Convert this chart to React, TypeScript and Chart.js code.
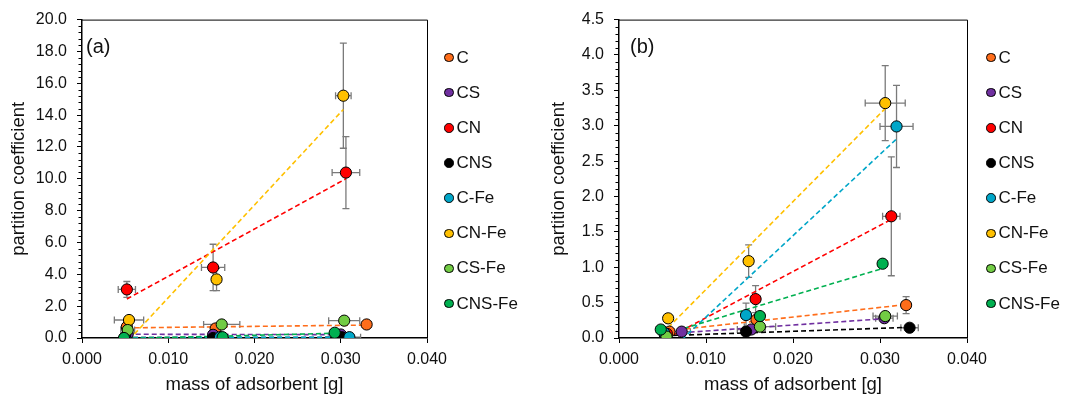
import React, { useEffect, useRef } from "react";
import { Chart, registerables } from "chart.js";

Chart.register(...registerables);

const FONT = "'Liberation Sans', Arial, sans-serif";

// ---------- series ----------
const seriesNames = ["C", "CS", "CN", "CNS", "C-Fe", "CN-Fe", "CS-Fe", "CNS-Fe"];
const seriesColors = ["#FF6D1A", "#7030A0", "#FF0000", "#000000", "#00A6C8", "#FFC000", "#72CC44", "#00B050"];
// series that carry a dashed linear trendline in the figure
const trendlineSeries = ["C", "CS", "CN", "CNS", "C-Fe", "CN-Fe", "CNS-Fe"];

// ---------- axes ----------
const xTickValues = [0, 0.01, 0.02, 0.03, 0.04];
const aYTicks = [0, 2, 4, 6, 8, 10, 12, 14, 16, 18, 20];
const bYTicks = [0, 0.5, 1, 1.5, 2, 2.5, 3, 3.5, 4, 4.5];

// ---------- panel (a) ----------
const aMass = [
  [0.0052, 0.0155, 0.033],
  [0.0053, 0.0152, 0.03],
  [0.0052, 0.0152, 0.0306],
  [0.005, 0.0152, 0.0301],
  [0.005, 0.016, 0.031],
  [0.00545, 0.0156, 0.0303],
  [0.0053, 0.0162, 0.0304],
  [0.00487, 0.0163, 0.0293],
];
const aPartition = [
  [0.7, 0.6, 0.85],
  [0.25, 0.2, 0.22],
  [3.05, 4.43, 10.39],
  [0.05, 0.0, 0.05],
  [0.02, 0.05, 0.05],
  [1.13, 3.68, 15.22],
  [0.5, 0.85, 1.09],
  [0.0, 0.05, 0.33],
];
const aMassErr = [
  [0.0005, 0.0005, 0.0005],
  [0.0005, 0.0005, 0.0005],
  [0.001, 0.00135, 0.0016],
  [0.0005, 0.0005, 0.0005],
  [0.0005, 0.0005, 0.0013],
  [0.0017, 0.0005, 0.0009],
  [0.0008, 0.0021, 0.0018],
  [0.0005, 0.0005, 0.0005],
];
const aPartitionErr = [
  [0.05, 0.05, 0.08],
  [0.03, 0.03, 0.03],
  [0.5, 1.46, 2.26],
  [0.03, 0.03, 0.03],
  [0.03, 0.03, 0.03],
  [0.2, 0.7, 3.3],
  [0.1, 0.1, 0.1],
  [0.03, 0.03, 0.05],
];

// ---------- panel (b) ----------
const bMass = [
  [0.0058, 0.0158, 0.033],
  [0.0072, 0.0152, 0.0305],
  [0.0055, 0.0157, 0.0313],
  [0.0053, 0.0146, 0.0334],
  [0.0052, 0.0146, 0.0319],
  [0.00565, 0.0149, 0.0306],
  [0.00546, 0.0162, 0.0306],
  [0.0048, 0.0162, 0.0303],
];
const bPartition = [
  [0.09, 0.26, 0.465],
  [0.09, 0.12, 0.28],
  [0.06, 0.55, 1.72],
  [0.02, 0.09, 0.145],
  [0.07, 0.324, 2.99],
  [0.278, 1.086, 3.32],
  [0.02, 0.16, 0.31],
  [0.12, 0.31, 1.05],
];
const bMassErr = [
  [0.0005, 0.0005, 0.0005],
  [0.001, 0.0016, 0.001],
  [0.0005, 0.0005, 0.001],
  [0.0005, 0.0005, 0.001],
  [0.0005, 0.0005, 0.0019],
  [0.0005, 0.0005, 0.0023],
  [0.0005, 0.0018, 0.0014],
  [0.0005, 0.0005, 0.0005],
];
const bPartitionErr = [
  [0.02, 0.05, 0.12],
  [0.02, 0.03, 0.03],
  [0.02, 0.19, 0.84],
  [0.01, 0.02, 0.03],
  [0.02, 0.17, 0.58],
  [0.03, 0.23, 0.53],
  [0.02, 0.03, 0.03],
  [0.02, 0.05, 0.05],
];

// least-squares linear trendline over the data range (as Excel draws it)
function trendline(xs: number[], ys: number[]) {
  const n = xs.length;
  const mx = xs.reduce((a, b) => a + b, 0) / n;
  const my = ys.reduce((a, b) => a + b, 0) / n;
  let sxy = 0;
  let sxx = 0;
  for (let i = 0; i < n; i++) {
    sxy += (xs[i] - mx) * (ys[i] - my);
    sxx += (xs[i] - mx) * (xs[i] - mx);
  }
  const slope = sxx === 0 ? 0 : sxy / sxx;
  const x0 = Math.min(...xs);
  const x1 = Math.max(...xs);
  return [
    { x: x0, y: my + slope * (x0 - mx) },
    { x: x1, y: my + slope * (x1 - mx) },
  ];
}

const errorBarPlugin = {
  id: "errorBars",
  beforeDatasetsDraw(chart: any) {
    const { ctx, chartArea, scales } = chart;
    const xs = scales.x;
    const ys = scales.y;
    ctx.save();
    ctx.beginPath();
    ctx.rect(chartArea.left, chartArea.top, chartArea.right - chartArea.left, chartArea.bottom - chartArea.top);
    ctx.clip();
    ctx.strokeStyle = "#7A7A7A";
    ctx.lineWidth = 1.3;
    const cap = 3.5;
    chart.data.datasets.forEach((ds: any) => {
      if (!ds.xErr) return;
      ds.data.forEach((p: any, i: number) => {
        const cx = xs.getPixelForValue(p.x);
        const cy = ys.getPixelForValue(p.y);
        const xl = xs.getPixelForValue(p.x - ds.xErr[i]);
        const xr = xs.getPixelForValue(p.x + ds.xErr[i]);
        const yt = ys.getPixelForValue(p.y + ds.yErr[i]);
        const yb = ys.getPixelForValue(p.y - ds.yErr[i]);
        ctx.beginPath();
        ctx.moveTo(xl, cy);
        ctx.lineTo(xr, cy);
        ctx.moveTo(xl, cy - cap);
        ctx.lineTo(xl, cy + cap);
        ctx.moveTo(xr, cy - cap);
        ctx.lineTo(xr, cy + cap);
        ctx.moveTo(cx, yt);
        ctx.lineTo(cx, yb);
        ctx.moveTo(cx - cap, yt);
        ctx.lineTo(cx + cap, yt);
        ctx.moveTo(cx - cap, yb);
        ctx.lineTo(cx + cap, yb);
        ctx.stroke();
      });
    });
    ctx.restore();
  },
};

const framePlugin = {
  id: "frame",
  afterDraw(chart: any, _args: any, opts: any) {
    const { ctx, chartArea, scales } = chart;
    const { left, right, top, bottom } = chartArea;
    ctx.save();
    ctx.strokeStyle = "#000";
    ctx.lineWidth = 1;
    ctx.beginPath();
    ctx.moveTo(left, top + 0.5);
    ctx.lineTo(right + 0.5, top + 0.5);
    ctx.lineTo(right + 0.5, bottom);
    ctx.stroke();
    // minor ticks on the value axis
    const ys = scales.y;
    const step = opts.minorStep;
    const n = Math.round((ys.max - ys.min) / step);
    ctx.beginPath();
    for (let k = 0; k <= n; k++) {
      if (k % 5 === 0) continue;
      const py = Math.round(ys.getPixelForValue(ys.min + k * step)) + 0.5;
      ctx.moveTo(left - 3.5, py);
      ctx.lineTo(left, py);
    }
    ctx.stroke();
    ctx.restore();
  },
};

function buildDatasets(mass: number[][], part: number[][], massErr: number[][], partErr: number[][]) {
  const points = seriesNames.map((name, i) => ({
    label: name,
    data: mass[i].map((m, j) => ({ x: m, y: part[i][j] })),
    backgroundColor: seriesColors[i],
    borderColor: "#000",
    borderWidth: 1,
    pointRadius: 5.6,
    pointHoverRadius: 5.6,
    showLine: false,
    order: 50 - i,
    xErr: massErr[i],
    yErr: partErr[i],
  }));
  const lines = seriesNames
    .map((name, i) => ({ name, i }))
    .filter((s) => trendlineSeries.includes(s.name))
    .map(({ name, i }) => ({
      label: name + " trend",
      data: trendline(mass[i], part[i]),
      borderColor: seriesColors[i],
      backgroundColor: seriesColors[i],
      borderWidth: 1.6,
      borderDash: [5, 3],
      pointRadius: 0,
      pointHoverRadius: 0,
      showLine: true,
      fill: false,
      order: 100 - i,
    }));
  return [...points, ...lines];
}

function buildConfig(
  mass: number[][],
  part: number[][],
  massErr: number[][],
  partErr: number[][],
  yTicks: number[],
  yDecimals: number,
  yAxisWidth: number,
  rightPad: number
): any {
  const yStep = yTicks[1] - yTicks[0];
  return {
    type: "scatter",
    data: { datasets: buildDatasets(mass, part, massErr, partErr) },
    plugins: [errorBarPlugin, framePlugin],
    options: {
      responsive: false,
      animation: false,
      events: [],
      layout: { padding: { top: 19, right: rightPad, left: 0, bottom: 0 } },
      plugins: {
        legend: { display: false },
        tooltip: { enabled: false },
        frame: { minorStep: yStep / 5 },
      },
      scales: {
        x: {
          type: "linear",
          min: xTickValues[0],
          max: xTickValues[xTickValues.length - 1],
          afterBuildTicks: (s: any) => {
            s.ticks = xTickValues.map((v) => ({ value: v }));
          },
          ticks: {
            callback: (v: any) => Number(v).toFixed(3),
            font: { family: FONT, size: 16 },
            color: "#111",
            padding: 7,
            maxRotation: 0,
          },
          grid: { drawOnChartArea: false, drawTicks: true, tickLength: 5, color: "#000", tickWidth: 1 },
          border: { display: true, color: "#000", width: 1.5 },
          title: {
            display: true,
            text: "mass of adsorbent [g]",
            font: { family: FONT, size: 18.5 },
            color: "#111",
            padding: { top: 0, bottom: 0 },
          },
          afterFit: (s: any) => {
            s.height = 58;
          },
        },
        y: {
          type: "linear",
          min: yTicks[0],
          max: yTicks[yTicks.length - 1],
          afterBuildTicks: (s: any) => {
            s.ticks = yTicks.map((v) => ({ value: v }));
          },
          ticks: {
            callback: (v: any) => Number(v).toFixed(yDecimals),
            font: { family: FONT, size: 16 },
            color: "#111",
            padding: 10,
          },
          grid: { drawOnChartArea: false, drawTicks: true, tickLength: 5, color: "#000", tickWidth: 1 },
          border: { display: true, color: "#000", width: 1.5 },
          title: {
            display: true,
            text: "partition coefficient",
            font: { family: FONT, size: 18.5 },
            color: "#111",
            padding: { top: 8, bottom: 0 },
          },
          afterFit: (s: any) => {
            s.width = yAxisWidth;
          },
        },
      },
    },
  };
}

function Panel(props: {
  left: number;
  width: number;
  tag: string;
  tagLeft: number;
  legendLeft: number;
  config: any;
}) {
  const ref = useRef<HTMLCanvasElement | null>(null);
  useEffect(() => {
    if (!ref.current) return;
    const chart = new Chart(ref.current, props.config);
    return () => chart.destroy();
  }, []);
  return (
    <div style={{ position: "absolute", left: props.left, top: 0, width: props.width, height: 396 }}>
      <canvas ref={ref} width={props.width} height={396} style={{ width: props.width, height: 396, display: "block" }} />
      <div
        style={{
          position: "absolute",
          left: props.tagLeft,
          top: 35,
          fontFamily: FONT,
          fontSize: 20,
          lineHeight: "22px",
          color: "#111",
          whiteSpace: "nowrap",
        }}
      >
        {props.tag}
      </div>
      {seriesNames.map((name, i) => {
        const cy = 57.5 + i * 35.15;
        return (
          <div
            key={name}
            style={{
              position: "absolute",
              left: props.legendLeft,
              top: cy - 10,
              height: 20,
              display: "flex",
              alignItems: "center",
              fontFamily: FONT,
              fontSize: 17,
              lineHeight: "20px",
              color: "#111",
              whiteSpace: "nowrap",
            }}
          >
            <span
              style={{
                display: "inline-block",
                width: 7.5,
                height: 7.5,
                borderRadius: "50%",
                background: seriesColors[i],
                border: "1px solid #000",
                marginRight: 3,
              }}
            />
            <span>{name}</span>
          </div>
        );
      })}
    </div>
  );
}

export default function App() {
  const configA = buildConfig(aMass, aPartition, aMassErr, aPartitionErr, aYTicks, 1, 82, 113);
  const configB = buildConfig(bMass, bPartition, bMassErr, bPartitionErr, bYTicks, 1, 79, 98);
  return (
    <div style={{ position: "fixed", left: 0, top: 0, width: 1065, height: 396, background: "#fff", overflow: "hidden" }}>
      <Panel left={0} width={540} tag="(a)" tagLeft={86} legendLeft={444} config={configA} />
      <Panel left={540} width={525} tag="(b)" tagLeft={90} legendLeft={446} config={configB} />
    </div>
  );
}
